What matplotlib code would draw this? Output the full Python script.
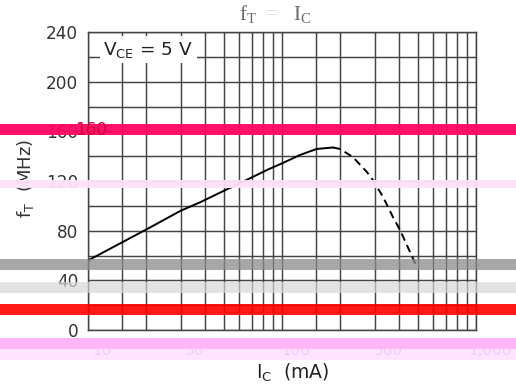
import matplotlib
matplotlib.use("Agg")
import matplotlib.pyplot as plt
from matplotlib.patches import Rectangle
from matplotlib.transforms import ScaledTranslation

# ---- data ----
ic_solid = [10, 20, 30, 38, 50, 66, 84, 101, 124, 151, 183]
ft_solid = [56, 81, 96, 103, 112, 121, 129, 134.5, 141, 145.8, 147]
ic_dash = [183, 199, 232, 274, 294, 332, 373, 406, 457, 496]
ft_dash = [147, 145.8, 139.3, 127.2, 120.8, 107.1, 91, 80.5, 62.8, 50.7]

x_major = [10, 30, 100, 300, 1000]
x_major_labels = ["10", "30", "100", "300", "1,000"]
x_grid = [10, 15, 20, 30, 40, 50, 60, 70, 80, 90, 100, 150, 200, 300,
          400, 500, 600, 700, 800, 900, 1000]
y_major = [0, 40, 80, 120, 160, 200, 240]
y_grid = [0, 20, 40, 60, 80, 100, 120, 140, 160, 180, 200, 220, 240]

W, H = 516, 392
DPI = 100
fig = plt.figure(figsize=(W / DPI, H / DPI), dpi=DPI)
fig.patch.set_facecolor("white")

# axes position (pixels)
L, R, T, B = 88, 476, 32, 330
ax = fig.add_axes([L / W, 1 - B / H, (R - L) / W, (B - T) / H])
ax.set_xscale("log")
ax.set_xlim(10, 1000)
ax.set_ylim(0, 240)

grid_c = "#444444"
for x in x_grid:
    ax.axvline(x, color=grid_c, lw=1.05, zorder=1)
for y in y_grid:
    ax.axhline(y, color=grid_c, lw=1.05, zorder=1)

ax.set_xticks(x_major)
ax.set_xticklabels(x_major_labels)
ax.xaxis.set_minor_locator(matplotlib.ticker.NullLocator())
ax.set_yticks(y_major)
ax.set_yticklabels([str(v) for v in y_major])
ax.tick_params(axis="both", length=0)
ax.tick_params(axis="y", labelsize=12.2, labelcolor="#333333", pad=7)
ax.tick_params(axis="x", labelsize=11, labelcolor="#b4a2ea", pad=9.5)
for lab in ax.get_xticklabels():
    lab.set_transform(lab.get_transform() + ScaledTranslation(14 / DPI, 0, fig.dpi_scale_trans))

for s in ax.spines.values():
    s.set_color(grid_c)
    s.set_linewidth(1.05)

ax.plot(ic_solid, ft_solid, color="black", lw=1.4, zorder=3)
ax.plot(ic_dash, ft_dash, color="black", lw=1.4, dashes=(4, 2.5), zorder=3)

ax.text(0.155, 0.94, r"V$_\mathregular{CE}$ = 5 V", transform=ax.transAxes,
        ha="center", va="center", fontsize=13.3, color="#222222",
        bbox=dict(fc="white", ec="none", pad=2.5), zorder=4)

# axis labels
fig.text(25 / W, 1 - 178 / H, r"f$_\mathregular{T}$  (MHz)", rotation=90,
         ha="center", va="center", fontsize=13, color="#333333")
fig.text(293 / W, 1 - 373 / H, r"I$_\mathregular{C}$  (mA)",
         ha="center", va="center", fontsize=13.5, color="#222222")

# title
tfont = dict(family="Liberation Serif", fontsize=15, color="#6a6a6a", va="center")
fig.text(248 / W, 1 - 15 / H, r"f$_\mathregular{T}$", ha="center", **tfont)
fig.text(272 / W, 1 - 15 / H, "=", ha="center", family="Liberation Serif",
         fontsize=15, color="#dcdcdc", va="center")
fig.text(302 / W, 1 - 15 / H, r"I$_\mathregular{C}$", ha="center", **tfont)

# overlay bands (pixel top, pixel bottom, colour, alpha)
bands = [
    (124, 135, "#ff0060", 0.93),
    (180, 188, "#ffe2fa", 0.95),
    (259, 270, "#8a8a8a", 0.75),
    (282, 293, "#d8d8d8", 0.7),
    (304, 315, "#ff0000", 0.9),
    (338, 349, "#ffb6f6", 1.0),
    (349, 360, "#ffdcff", 0.75),
]
for top, bot, col, a in bands:
    fig.add_artist(Rectangle((0, 1 - bot / H), 1, (bot - top) / H,
                             transform=fig.transFigure, facecolor=col,
                             edgecolor="none", alpha=a, zorder=5))

fig.text(91 / W, 1 - 130 / H, "160", ha="center", va="center", fontsize=12.2,
         color="#d0003a", zorder=6)

fig.savefig("out.png", dpi=DPI)
